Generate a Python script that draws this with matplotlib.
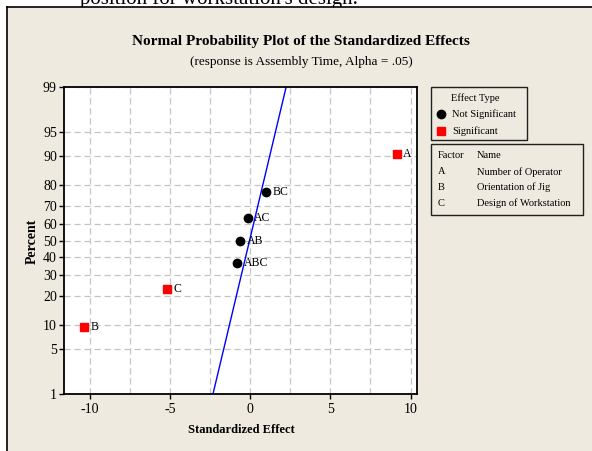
import matplotlib
matplotlib.use('Agg')
import matplotlib.pyplot as plt
from matplotlib.patches import Rectangle
from matplotlib.lines import Line2D
from matplotlib.ticker import MultipleLocator
from statistics import NormalDist

# effects (standardized effect, percent)
terms = ['B', 'C', 'ABC', 'AB', 'AC', 'BC', 'A']
effects = [-10.33, -5.16, -0.79, -0.60, -0.15, 1.00, 9.15]
percents = [9.5, 23.0, 36.5, 50.0, 63.5, 77.0, 90.5]
significant = [True, True, False, False, False, False, True]

# reference line (mean, sd) of the normal fit
line_mean = -0.035
line_sd = 0.98

pct_ticks = [1, 5, 10, 20, 30, 40, 50, 60, 70, 80, 90, 95, 99]
x_ticks = [-10, -5, 0, 5, 10]

factor_letters = ['A', 'B', 'C']
factor_names = ['Number of Operator', 'Orientation of Jig', 'Design of Workstation']

W, H = 592, 451
BG = '#eeeae0'
plt.rcParams['font.family'] = ['Liberation Serif', 'DejaVu Serif']


def fx(x):
    return x / W


def fy(y):
    return 1 - y / H


z = NormalDist().inv_cdf

fig = plt.figure(figsize=(W / 100, H / 100), dpi=100, facecolor='white')

# cut-off line of document text above the graph
fig.text(fx(80), fy(4), "position for workstation's design.", fontsize=15,
         ha='left', va='baseline', zorder=0)

# beige graph window with border on top/left
fig.patches.append(Rectangle((fx(7), 0), 1 - fx(7), fy(7), transform=fig.transFigure,
                             facecolor=BG, edgecolor='none', zorder=1))
fig.add_artist(Line2D([fx(7), fx(7)], [0, fy(7)], color='black', lw=1.2, zorder=2))
fig.add_artist(Line2D([fx(7), 1], [fy(7), fy(7)], color='black', lw=1.2, zorder=2))

# titles
fig.text(fx(301), fy(45.5), 'Normal Probability Plot of the Standardized Effects',
         fontsize=11, weight='bold', ha='center', va='baseline', zorder=3)
fig.text(fx(301), fy(64.5), '(response is Assembly Time, Alpha = .05)',
         fontsize=9.5, ha='center', va='baseline', zorder=3)

ax = fig.add_axes([fx(64), fy(394), fx(417) - fx(64), (394 - 87) / H])
ax.set_zorder(3)
ax.set_facecolor('white')
ax.set_xlim(-11.6, 10.4)
ax.set_ylim(z(0.01), z(0.99))

ax.set_yticks([z(p / 100) for p in pct_ticks])
ax.set_yticklabels([str(p) for p in pct_ticks])
ax.set_xticks(x_ticks)
ax.set_xticklabels([str(t) for t in x_ticks])
ax.xaxis.set_minor_locator(MultipleLocator(2.5))

ax.grid(True, which='both', color='#c4c4c4', linestyle=(0, (5, 3)), lw=0.9)
ax.set_axisbelow(True)
ax.tick_params(which='major', direction='out', length=3.6, width=1, labelsize=10,
               color='black')
ax.tick_params(axis='x', pad=3)
ax.tick_params(axis='y', pad=1.5)
ax.tick_params(which='minor', length=0)
for edge in ['right', 'bottom', 'top', 'left']:
    ax.spines[edge].set_linewidth(1.3)

# normal reference line
zz = [z(0.005), z(0.995)]
ax.plot([line_mean + line_sd * v for v in zz], zz, color='#0000ff', lw=1)

# effects
for t, e, p, s in zip(terms, effects, percents, significant):
    y = z(p / 100)
    if s:
        ax.plot(e, y, marker='s', ms=5.5, color='#ff0000', ls='none', zorder=4)
    else:
        ax.plot(e, y, marker='o', ms=6, color='black', ls='none', zorder=4)
    ax.annotate(t, (e, y), xytext=(4.5, 0), textcoords='offset points',
                va='center', ha='left', fontsize=8.5)

# axis labels
fig.text(fx(241), fy(430), 'Standardized Effect', fontsize=9, weight='bold',
         ha='center', va='center', zorder=4)
fig.text(fx(32), fy(241), 'Percent', fontsize=10, weight='bold', rotation=90,
         ha='center', va='center', zorder=4)

# legend: effect type
fig.patches.append(Rectangle((fx(431), fy(140)), fx(527) - fx(431), (140 - 87) / H,
                             transform=fig.transFigure, facecolor=BG,
                             edgecolor='#202020', lw=1, zorder=3))
fig.text(fx(475.5), fy(98), 'Effect Type', fontsize=7.5, ha='center', va='center', zorder=4)
fig.add_artist(Line2D([fx(441)], [fy(114)], marker='o', ms=6, color='black', ls='none', zorder=4))
fig.text(fx(452), fy(114), 'Not Significant', fontsize=7.5, ha='left', va='center', zorder=4)
fig.add_artist(Line2D([fx(441)], [fy(131)], marker='s', ms=5.5, color='#ff0000', ls='none', zorder=4))
fig.text(fx(452), fy(131), 'Significant', fontsize=7.5, ha='left', va='center', zorder=4)

# legend: factor names
fig.patches.append(Rectangle((fx(431), fy(215)), fx(583) - fx(431), (215 - 144) / H,
                             transform=fig.transFigure, facecolor=BG,
                             edgecolor='#202020', lw=1, zorder=3))
fig.text(fx(438), fy(156), 'Factor', fontsize=7.5, ha='left', va='center', zorder=4)
fig.text(fx(477), fy(156), 'Name', fontsize=7.5, ha='left', va='center', zorder=4)
for i, (letter, name) in enumerate(zip(factor_letters, factor_names)):
    yy = [172, 187.5, 203][i]
    fig.text(fx(438), fy(yy), letter, fontsize=7.5, ha='left', va='center', zorder=4)
    fig.text(fx(477), fy(yy), name, fontsize=7.5, ha='left', va='center', zorder=4)

fig.savefig('out.png', dpi=100, facecolor='white')
